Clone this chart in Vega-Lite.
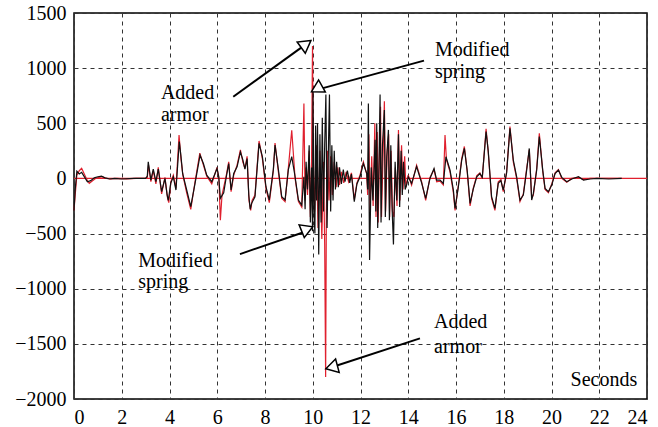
{
  "$schema": "https://vega.github.io/schema/vega-lite/v6.json",
  "width": 573,
  "height": 386,
  "autosize": {"type": "none"},
  "padding": {"left": 74, "top": 13, "right": 11, "bottom": 28},
  "background": "white",
  "config": {
    "view": {"stroke": "#000", "strokeWidth": 1.5},
    "axis": {
      "labelFont": "Times New Roman",
      "labelFontSize": 20,
      "labelColor": "#000",
      "labelPadding": 8,
      "grid": true,
      "gridColor": "#333",
      "gridDash": [4, 4],
      "gridWidth": 1,
      "ticks": false,
      "domain": false,
      "title": null
    }
  },
  "datasets": {
    "black": [
      {"t":0.00,"v":-290},{"t":0.05,"v":-100},{"t":0.12,"v":65},{"t":0.22,"v":40},{"t":0.32,"v":55},{"t":0.45,"v":10},{"t":0.56,"v":-30},{"t":0.70,"v":-20},{"t":0.85,"v":5},{"t":1.00,"v":15},{"t":1.15,"v":20},{"t":1.30,"v":5},{"t":1.50,"v":-5},{"t":1.70,"v":0},{"t":2.00,"v":-5},{"t":2.50,"v":0},{"t":3.00,"v":0},
      {"t":3.07,"v":20},{"t":3.11,"v":150},{"t":3.22,"v":-15},{"t":3.32,"v":85},{"t":3.43,"v":-30},{"t":3.53,"v":85},{"t":3.67,"v":-120},{"t":3.81,"v":0},{"t":3.90,"v":-150},{"t":3.95,"v":-200},{"t":4.05,"v":-45},{"t":4.16,"v":15},{"t":4.27,"v":-105},{"t":4.41,"v":335},{"t":4.48,"v":200},{"t":4.55,"v":45},{"t":4.72,"v":-105},{"t":4.89,"v":-255},{"t":5.07,"v":-45},{"t":5.28,"v":210},{"t":5.42,"v":135},{"t":5.56,"v":30},{"t":5.77,"v":-30},{"t":5.99,"v":90},{"t":6.06,"v":20},{"t":6.13,"v":-180},{"t":6.27,"v":-130},{"t":6.38,"v":15},{"t":6.48,"v":135},{"t":6.58,"v":-105},{"t":6.69,"v":45},{"t":6.83,"v":105},{"t":6.97,"v":240},{"t":7.07,"v":170},{"t":7.16,"v":85},{"t":7.25,"v":180},{"t":7.32,"v":-150},{"t":7.38,"v":-280},{"t":7.44,"v":-226},{"t":7.58,"v":-166},{"t":7.75,"v":318},{"t":7.89,"v":197},{"t":8.04,"v":-75},{"t":8.18,"v":-196},{"t":8.35,"v":83},{"t":8.42,"v":303},{"t":8.56,"v":83},{"t":8.70,"v":-166},{"t":8.84,"v":-196},{"t":8.98,"v":83},{"t":9.12,"v":197},{"t":9.26,"v":15},{"t":9.40,"v":-196},{"t":9.54,"v":-242},{"t":9.63,"v":15},{"t":9.68,"v":-280},{"t":9.72,"v":150},{"t":9.78,"v":-100},{"t":9.85,"v":300},{"t":9.90,"v":-400},{"t":9.95,"v":100},{"t":9.99,"v":-480},{"t":10.01,"v":800},{"t":10.05,"v":-300},{"t":10.09,"v":-500},{"t":10.12,"v":480},{"t":10.16,"v":-200},{"t":10.20,"v":500},{"t":10.25,"v":-690},{"t":10.30,"v":400},{"t":10.35,"v":-400},{"t":10.40,"v":550},{"t":10.45,"v":-300},{"t":10.50,"v":300},{"t":10.55,"v":760},{"t":10.60,"v":-450},{"t":10.65,"v":200},{"t":10.70,"v":760},{"t":10.75,"v":-300},{"t":10.80,"v":300},{"t":10.85,"v":-200},{"t":10.90,"v":250},{"t":10.95,"v":-100},{"t":11.00,"v":150},{"t":11.07,"v":-80},{"t":11.12,"v":100},{"t":11.20,"v":-50},{"t":11.28,"v":80},{"t":11.35,"v":-30},{"t":11.45,"v":70},{"t":11.55,"v":-40},{"t":11.62,"v":40},{"t":11.74,"v":-210},{"t":11.85,"v":-50},{"t":11.98,"v":15},{"t":12.12,"v":135},{"t":12.26,"v":47},{"t":12.30,"v":-100},{"t":12.33,"v":680},{"t":12.38,"v":-740},{"t":12.45,"v":100},{"t":12.52,"v":-200},{"t":12.61,"v":350},{"t":12.64,"v":-300},{"t":12.68,"v":500},{"t":12.72,"v":-450},{"t":12.78,"v":200},{"t":12.82,"v":760},{"t":12.86,"v":-400},{"t":12.92,"v":300},{"t":13.00,"v":620},{"t":13.04,"v":-350},{"t":13.10,"v":200},{"t":13.17,"v":440},{"t":13.21,"v":-380},{"t":13.27,"v":300},{"t":13.32,"v":-250},{"t":13.38,"v":-600},{"t":13.45,"v":150},{"t":13.52,"v":-200},{"t":13.59,"v":400},{"t":13.64,"v":-260},{"t":13.70,"v":250},{"t":13.75,"v":-150},{"t":13.80,"v":150},{"t":13.87,"v":-100},{"t":13.93,"v":-60},{"t":14.00,"v":15},{"t":14.14,"v":-45},{"t":14.35,"v":107},{"t":14.56,"v":-40},{"t":14.73,"v":-180},{"t":14.91,"v":0},{"t":15.08,"v":90},{"t":15.19,"v":-15},{"t":15.33,"v":-15},{"t":15.47,"v":-45},{"t":15.58,"v":197},{"t":15.75,"v":76},{"t":15.89,"v":-105},{"t":15.96,"v":-272},{"t":16.10,"v":-75},{"t":16.24,"v":167},{"t":16.35,"v":272},{"t":16.47,"v":70},{"t":16.59,"v":-226},{"t":16.72,"v":-100},{"t":16.87,"v":15},{"t":17.00,"v":45},{"t":17.10,"v":10},{"t":17.26,"v":424},{"t":17.35,"v":250},{"t":17.49,"v":-166},{"t":17.63,"v":-272},{"t":17.77,"v":-45},{"t":17.88,"v":-20},{"t":17.98,"v":-105},{"t":18.12,"v":50},{"t":18.26,"v":454},{"t":18.40,"v":167},{"t":18.54,"v":15},{"t":18.68,"v":-196},{"t":18.82,"v":-150},{"t":18.96,"v":76},{"t":19.07,"v":272},{"t":19.17,"v":-196},{"t":19.24,"v":-136},{"t":19.38,"v":76},{"t":19.49,"v":380},{"t":19.63,"v":80},{"t":19.73,"v":-90},{"t":19.87,"v":-120},{"t":20.01,"v":-60},{"t":20.15,"v":45},{"t":20.29,"v":76},{"t":20.43,"v":10},{"t":20.64,"v":-30},{"t":20.85,"v":-5},{"t":21.13,"v":15},{"t":21.34,"v":-15},{"t":21.62,"v":-5},{"t":21.90,"v":0},{"t":22.40,"v":-5},{"t":22.94,"v":0}
    ],
    "red": [
      {"t":0.00,"v":-290},{"t":0.05,"v":-150},{"t":0.12,"v":30},{"t":0.22,"v":70},{"t":0.32,"v":92},{"t":0.45,"v":30},{"t":0.56,"v":-20},{"t":0.64,"v":-44},{"t":0.75,"v":-25},{"t":0.90,"v":0},{"t":1.05,"v":10},{"t":1.20,"v":15},{"t":1.35,"v":0},{"t":1.55,"v":-5},{"t":1.80,"v":0},{"t":2.20,"v":-5},{"t":2.60,"v":0},{"t":3.00,"v":0},
      {"t":3.07,"v":10},{"t":3.12,"v":120},{"t":3.22,"v":-30},{"t":3.32,"v":70},{"t":3.43,"v":-50},{"t":3.53,"v":100},{"t":3.67,"v":-140},{"t":3.81,"v":10},{"t":3.92,"v":-180},{"t":3.97,"v":-220},{"t":4.06,"v":-30},{"t":4.16,"v":30},{"t":4.27,"v":-90},{"t":4.40,"v":393},{"t":4.48,"v":180},{"t":4.56,"v":30},{"t":4.72,"v":-130},{"t":4.89,"v":-280},{"t":5.07,"v":-30},{"t":5.27,"v":230},{"t":5.42,"v":120},{"t":5.56,"v":20},{"t":5.77,"v":-50},{"t":5.99,"v":100},{"t":6.07,"v":0},{"t":6.13,"v":-378},{"t":6.20,"v":-150},{"t":6.38,"v":30},{"t":6.48,"v":150},{"t":6.58,"v":-120},{"t":6.69,"v":30},{"t":6.83,"v":120},{"t":6.97,"v":260},{"t":7.07,"v":150},{"t":7.16,"v":90},{"t":7.25,"v":200},{"t":7.33,"v":-200},{"t":7.40,"v":-290},{"t":7.46,"v":-200},{"t":7.58,"v":-150},{"t":7.75,"v":340},{"t":7.89,"v":180},{"t":8.04,"v":-90},{"t":8.18,"v":-220},{"t":8.35,"v":70},{"t":8.42,"v":320},{"t":8.56,"v":60},{"t":8.70,"v":-180},{"t":8.84,"v":-210},{"t":8.98,"v":100},{"t":9.12,"v":437},{"t":9.26,"v":0},{"t":9.40,"v":-210},{"t":9.54,"v":-260},{"t":9.63,"v":680},{"t":9.68,"v":-200},{"t":9.72,"v":100},{"t":9.78,"v":-150},{"t":9.85,"v":250},{"t":9.90,"v":-350},{"t":9.95,"v":150},{"t":9.99,"v":1200},{"t":10.02,"v":200},{"t":10.08,"v":-300},{"t":10.15,"v":300},{"t":10.22,"v":-450},{"t":10.30,"v":250},{"t":10.38,"v":-550},{"t":10.45,"v":150},{"t":10.50,"v":-600},{"t":10.54,"v":-1800},{"t":10.57,"v":-300},{"t":10.62,"v":250},{"t":10.68,"v":-200},{"t":10.75,"v":200},{"t":10.82,"v":-150},{"t":10.90,"v":150},{"t":10.98,"v":-80},{"t":11.05,"v":100},{"t":11.12,"v":-60},{"t":11.20,"v":60},{"t":11.30,"v":-40},{"t":11.40,"v":60},{"t":11.50,"v":-30},{"t":11.62,"v":50},{"t":11.74,"v":-190},{"t":11.85,"v":-40},{"t":11.98,"v":30},{"t":12.12,"v":150},{"t":12.26,"v":40},{"t":12.30,"v":-150},{"t":12.35,"v":400},{"t":12.40,"v":-300},{"t":12.47,"v":200},{"t":12.53,"v":-250},{"t":12.60,"v":500},{"t":12.65,"v":-350},{"t":12.70,"v":420},{"t":12.74,"v":-400},{"t":12.80,"v":300},{"t":12.84,"v":650},{"t":12.88,"v":-350},{"t":12.95,"v":250},{"t":13.00,"v":700},{"t":13.05,"v":-300},{"t":13.12,"v":250},{"t":13.18,"v":400},{"t":13.22,"v":-350},{"t":13.28,"v":250},{"t":13.34,"v":-300},{"t":13.40,"v":-350},{"t":13.46,"v":100},{"t":13.53,"v":-250},{"t":13.59,"v":440},{"t":13.65,"v":-200},{"t":13.72,"v":300},{"t":13.78,"v":-100},{"t":13.85,"v":200},{"t":13.90,"v":-80},{"t":13.95,"v":-30},{"t":14.00,"v":30},{"t":14.14,"v":-60},{"t":14.35,"v":120},{"t":14.56,"v":-30},{"t":14.73,"v":-200},{"t":14.91,"v":10},{"t":15.08,"v":80},{"t":15.19,"v":-30},{"t":15.33,"v":-25},{"t":15.47,"v":-60},{"t":15.54,"v":393},{"t":15.60,"v":170},{"t":15.75,"v":60},{"t":15.89,"v":-130},{"t":15.96,"v":-290},{"t":16.10,"v":-60},{"t":16.24,"v":180},{"t":16.35,"v":290},{"t":16.47,"v":60},{"t":16.59,"v":-250},{"t":16.72,"v":-90},{"t":16.87,"v":25},{"t":17.00,"v":50},{"t":17.10,"v":0},{"t":17.26,"v":450},{"t":17.35,"v":240},{"t":17.49,"v":-180},{"t":17.63,"v":-290},{"t":17.77,"v":-30},{"t":17.88,"v":-10},{"t":17.98,"v":-120},{"t":18.12,"v":60},{"t":18.26,"v":470},{"t":18.40,"v":150},{"t":18.54,"v":0},{"t":18.68,"v":-210},{"t":18.82,"v":-140},{"t":18.96,"v":90},{"t":19.07,"v":260},{"t":19.17,"v":-180},{"t":19.24,"v":-150},{"t":19.38,"v":90},{"t":19.49,"v":410},{"t":19.63,"v":70},{"t":19.73,"v":-100},{"t":19.87,"v":-130},{"t":20.01,"v":-50},{"t":20.15,"v":50},{"t":20.29,"v":80},{"t":20.43,"v":0},{"t":20.64,"v":-35},{"t":20.85,"v":0},{"t":21.13,"v":10},{"t":21.34,"v":-10},{"t":21.62,"v":0},{"t":21.90,"v":0},{"t":22.94,"v":0}
    ],
    "arrows": [
      {"id":"A1","t1":6.67,"v1":741,"t2":9.72,"v2":1218},
      {"id":"A2","t1":14.66,"v1":1068,"t2":10.31,"v2":812},
      {"id":"A3","t1":6.95,"v1":-686,"t2":9.68,"v2":-483},
      {"id":"A4","t1":14.49,"v1":-1450,"t2":10.79,"v2":-1712}
    ],
    "labels": [
      {"t":3.64,"v":720,"text":"Added"},
      {"t":3.64,"v":525,"text":"armor"},
      {"t":15.12,"v":1110,"text":"Modified"},
      {"t":15.12,"v":908,"text":"spring"},
      {"t":2.69,"v":-801,"text":"Modified"},
      {"t":2.69,"v":-997,"text":"spring"},
      {"t":15.08,"v":-1354,"text":"Added"},
      {"t":15.08,"v":-1586,"text":"armor"},
      {"t":20.80,"v":-1883,"text":"Seconds"}
    ]
  },
  "layer": [
    {
      "data": {"values": [{}]},
      "mark": {"type": "rule", "color": "#e0202e", "strokeWidth": 1.2},
      "encoding": {"y": {"datum": 0, "type": "quantitative", "scale": {"domain": [-2000, 1500], "nice": false, "zero": false}}}
    },
    {
      "data": {"name": "red"},
      "mark": {"type": "line", "color": "#e0202e", "strokeWidth": 1.2},
      "encoding": {
        "x": {"field": "t", "type": "quantitative", "scale": {"domain": [0, 24], "nice": false, "zero": false}, "axis": {"values": [0,2,4,6,8,10,12,14,16,18,20,22,24], "format": "d"}},
        "y": {"field": "v", "type": "quantitative", "scale": {"domain": [-2000, 1500], "nice": false, "zero": false}, "axis": {"values": [-2000,-1500,-1000,-500,0,500,1000,1500], "format": "d"}}
      }
    },
    {
      "data": {"name": "black"},
      "mark": {"type": "line", "color": "#111", "strokeWidth": 1.2},
      "encoding": {
        "x": {"field": "t", "type": "quantitative"},
        "y": {"field": "v", "type": "quantitative"}
      }
    },
    {
      "data": {"name": "arrows"},
      "mark": {"type": "rule", "color": "#000", "strokeWidth": 2},
      "encoding": {
        "x": {"field": "t1", "type": "quantitative"},
        "y": {"field": "v1", "type": "quantitative"},
        "x2": {"field": "t2"},
        "y2": {"field": "v2"}
      }
    },
    {
      "data": {"name": "arrows"},
      "mark": {"type": "point", "shape": "triangle-up", "filled": true, "fill": "white", "stroke": "#000", "strokeWidth": 1.5, "size": 190, "opacity": 1},
      "encoding": {
        "x": {"field": "t2", "type": "quantitative"},
        "y": {"field": "v2", "type": "quantitative"},
        "angle": {"field": "id", "type": "nominal", "scale": {"domain": ["A1","A2","A3","A4"], "range": [54, 255, 71, 252]}}
      }
    },
    {
      "data": {"name": "labels"},
      "mark": {"type": "text", "align": "left", "baseline": "alphabetic", "font": "Times New Roman", "fontSize": 20, "color": "#000"},
      "encoding": {
        "x": {"field": "t", "type": "quantitative"},
        "y": {"field": "v", "type": "quantitative"},
        "text": {"field": "text"}
      }
    }
  ]
}
